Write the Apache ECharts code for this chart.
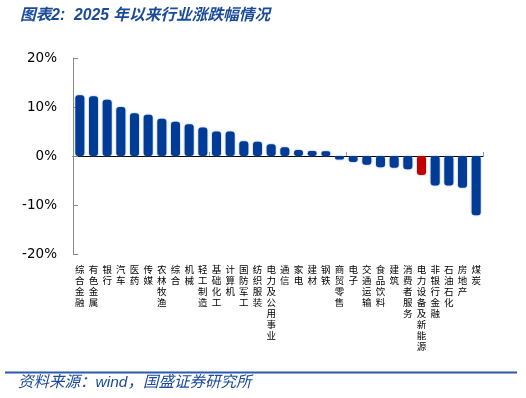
<!DOCTYPE html>
<html>
<head>
<meta charset="utf-8">
<script src="https://cdn.jsdelivr.net/npm/echarts@6/dist/echarts.min.js"></script>
<style>
html,body{margin:0;padding:0;background:#fff;}
#c{width:526px;height:398px;}
</style>
</head>
<body>
<div id="c"></div>
<script>
const categories = ['综合金融','有色金属','银行','汽车','医药','传媒','农林牧渔','综合','机械','轻工制造','基础化工','计算机','国防军工','纺织服装','电力及公用事业','通信','家电','建材','钢铁','商贸零售','电子','交通运输','食品饮料','建筑','消费者服务','电力设备及新能源','非银行金融','石油石化','房地产','煤炭'];
const values = [12.4, 12.2, 11.5, 10.0, 8.7, 8.4, 7.6, 7.0, 6.5, 5.8, 5.0, 5.0, 3.0, 2.9, 2.4, 1.8, 1.2, 1.0, 0.95, -0.7, -1.2, -1.8, -2.3, -2.4, -2.7, -3.9, -6.0, -6.0, -6.5, -12.1];
const highlight = '电力设备及新能源';
const yTicks = [-20, -10, 0, 10, 20];

const chart = echarts.init(document.getElementById('c'), null, {renderer: 'canvas'});
const blue = '#003C96', red = '#C00000';
chart.setOption({
  animation: false,
  title: {
    text: '图表2:  2025 年以来行业涨跌幅情况',
    left: 15, top: 3,
    textStyle: {color: '#1A4A9A', fontSize: 15.7, fontStyle: 'italic', fontWeight: 'bold', fontFamily: 'Liberation Sans, Noto Sans CJK SC'}
  },
  grid: {left: 73, right: 43, top: 58, bottom: 144},
  xAxis: [{
    type: 'category', data: categories, position: 'bottom',
    axisLine: {show: false, onZero: false}, axisTick: {show: false},
    axisLabel: {
      interval: 0, margin: 10, color: '#000', fontSize: 9.5, lineHeight: 11,
      fontFamily: 'Noto Sans CJK SC', verticalAlign: 'top',
      formatter: v => v.split('').join('\n')
    }
  }, {
    type: 'category', data: categories, position: 'top',
    axisLine: {show: true, onZero: true, lineStyle: {color: '#000', width: 1}},
    axisTick: {show: true, inside: false, length: 4, lineStyle: {color: '#999'}},
    axisLabel: {show: false}
  }],
  yAxis: {
    type: 'value', min: yTicks[0], max: yTicks[yTicks.length-1], interval: 10,
    axisLine: {show: true, lineStyle: {color: '#888'}},
    axisTick: {show: true, inside: true, length: 5, lineStyle: {color: '#888'}},
    splitLine: {show: false},
    axisLabel: {formatter: '{value}%', color: '#000', fontSize: 13.5, margin: 16, fontFamily: 'DejaVu Sans'}
  },
  series: [{
    type: 'bar', xAxisIndex: 0,
    barWidth: 9,
    data: values.map((v, i) => ({
      value: v,
      itemStyle: {
        color: categories[i] === highlight ? red : blue,
        borderRadius: 3,
        shadowBlur: 2,
        shadowColor: categories[i] === highlight ? 'rgba(220,120,120,0.8)' : 'rgba(120,150,210,0.9)'
      }
    }))
  }],
  graphic: [
    {type: 'line', shape: {x1: 5, y1: 372.5, x2: 517, y2: 372.5}, style: {stroke: '#2A5AA8', lineWidth: 2}},
    {type: 'text', left: 18, top: 375, style: {text: '资料来源：wind，国盛证券研究所', fill: '#1A4A9A', fontSize: 15.5, fontStyle: 'italic', fontFamily: 'Liberation Sans, Noto Sans CJK SC'}}
  ]
});
</script>
</body>
</html>
